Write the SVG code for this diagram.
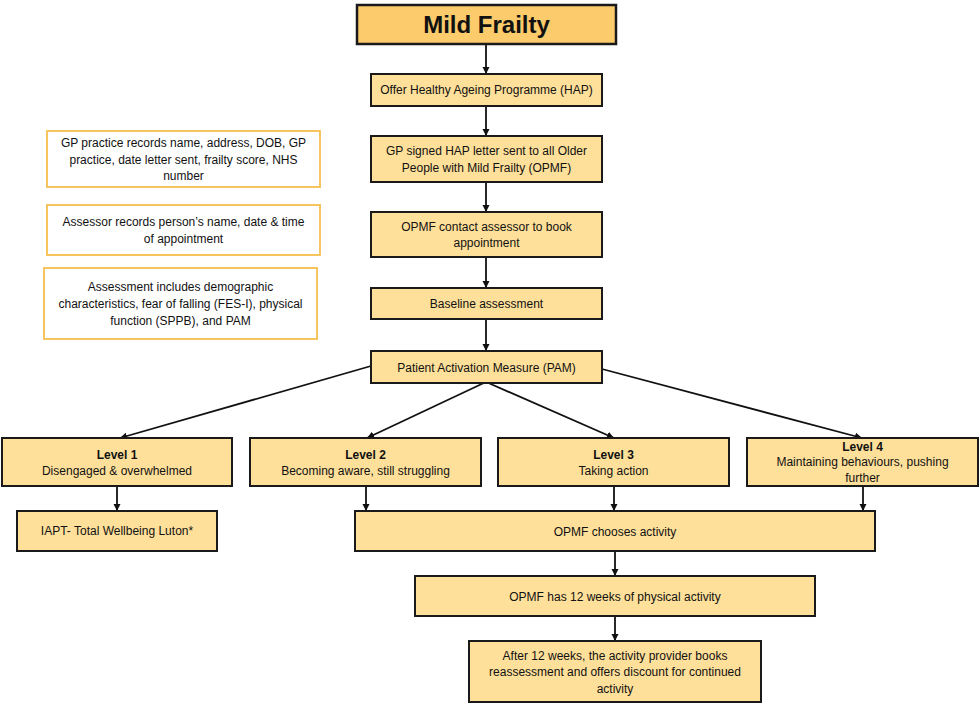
<svg xmlns="http://www.w3.org/2000/svg" width="980" height="705" viewBox="0 0 980 705">
<defs>
<style>
.box{fill:#FFE09A;stroke:#1a1a1a;stroke-width:2}
.title{fill:#FCCB6B;stroke:#1a1a1a;stroke-width:2.5}
.note{fill:#ffffff;stroke:#F6C55F;stroke-width:2}
text{font-family:"Liberation Sans",Arial,sans-serif;font-size:12px;fill:#111;text-anchor:middle}
.b{font-weight:bold}
.t{font-size:24px;font-weight:bold}
.c line{stroke:#111;stroke-width:1.8;marker-end:url(#ah)}
</style>
<marker id="ah" viewBox="0 0 8 8" refX="8" refY="4" markerWidth="4" markerHeight="4" orient="auto" markerUnits="strokeWidth">
<path d="M0,0 L8,4 L0,8 z" fill="#111"/>
</marker>
</defs>
<rect width="980" height="705" fill="#fff"/>
<g class="c" id="connectors">
<line x1="486" y1="44" x2="486" y2="74"/>
<line x1="486" y1="106" x2="486" y2="136"/>
<line x1="486" y1="182" x2="486" y2="212"/>
<line x1="486" y1="257" x2="486" y2="288"/>
<line x1="486" y1="319" x2="486" y2="351"/>
<line x1="371" y1="366" x2="120" y2="438"/>
<line x1="488" y1="381" x2="367" y2="438"/>
<line x1="484" y1="381" x2="614" y2="438"/>
<line x1="602" y1="369" x2="862" y2="438"/>
<line x1="117" y1="486" x2="117" y2="511"/>
<line x1="366" y1="486" x2="366" y2="511"/>
<line x1="614" y1="486" x2="614" y2="511"/>
<line x1="863" y1="486" x2="863" y2="511"/>
<line x1="615" y1="551" x2="615" y2="576"/>
<line x1="615" y1="616" x2="615" y2="641"/>
</g>
<g id="mild-frailty"><rect class="title" x="357" y="5" width="259" height="39"/><text class="t" x="486.5" y="33">Mild Frailty</text></g>
<g id="offer-hap"><rect class="box" x="371" y="74" width="231" height="32"/><text x="486.5" y="94">Offer Healthy Ageing Programme (HAP)</text></g>
<g id="gp-letter"><rect class="box" x="371" y="136" width="231" height="46"/><text x="486.5" y="155">GP signed HAP letter sent to all Older</text><text x="486.5" y="172">People with Mild Frailty (OPMF)</text></g>
<g id="contact-assessor"><rect class="box" x="371" y="212" width="231" height="45"/><text x="486.5" y="231">OPMF contact assessor to book</text><text x="486.5" y="247">appointment</text></g>
<g id="baseline"><rect class="box" x="371" y="288" width="231" height="31"/><text x="486.5" y="308">Baseline assessment</text></g>
<g id="pam"><rect class="box" x="371" y="351" width="231" height="32"/><text x="486.5" y="372">Patient Activation Measure (PAM)</text></g>
<g id="note-gp"><rect class="note" x="47" y="131" width="273" height="56"/><text x="183.5" y="147">GP practice records name, address, DOB, GP</text><text x="183.5" y="164">practice, date letter sent, frailty score, NHS</text><text x="183.5" y="180">number</text></g>
<g id="note-assessor"><rect class="note" x="47" y="205" width="273" height="50"/><text x="183.5" y="226">Assessor records person’s name, date &amp; time</text><text x="183.5" y="243">of appointment</text></g>
<g id="note-assessment"><rect class="note" x="44" y="268" width="273" height="71"/><text x="180.5" y="291">Assessment includes demographic</text><text x="180.5" y="308">characteristics, fear of falling (FES-I), physical</text><text x="180.5" y="325">function (SPPB), and PAM</text></g>
<g id="level1"><rect class="box" x="2" y="438" width="230" height="48"/><text class="b" x="117" y="459">Level 1</text><text x="117" y="475">Disengaged &amp; overwhelmed</text></g>
<g id="level2"><rect class="box" x="250" y="438" width="231" height="48"/><text class="b" x="365.5" y="459">Level 2</text><text x="365.5" y="475">Becoming aware, still struggling</text></g>
<g id="level3"><rect class="box" x="498" y="438" width="231" height="48"/><text class="b" x="613.5" y="459">Level 3</text><text x="613.5" y="475">Taking action</text></g>
<g id="level4"><rect class="box" x="747" y="438" width="231" height="48"/><text class="b" x="862.5" y="451">Level 4</text><text x="862.5" y="466">Maintaining behaviours, pushing</text><text x="862.5" y="482">further</text></g>
<g id="iapt"><rect class="box" x="17" y="511" width="200" height="40"/><text x="117" y="535">IAPT- Total Wellbeing Luton*</text></g>
<g id="chooses"><rect class="box" x="355" y="511" width="520" height="40"/><text x="615" y="536">OPMF chooses activity</text></g>
<g id="twelve-weeks"><rect class="box" x="415" y="576" width="400" height="40"/><text x="615" y="601">OPMF has 12 weeks of physical activity</text></g>
<g id="reassessment"><rect class="box" x="469" y="641" width="292" height="61"/><text x="615" y="660">After 12 weeks, the activity provider books</text><text x="615" y="676">reassessment and offers discount for continued</text><text x="615" y="693">activity</text></g>
</svg>
